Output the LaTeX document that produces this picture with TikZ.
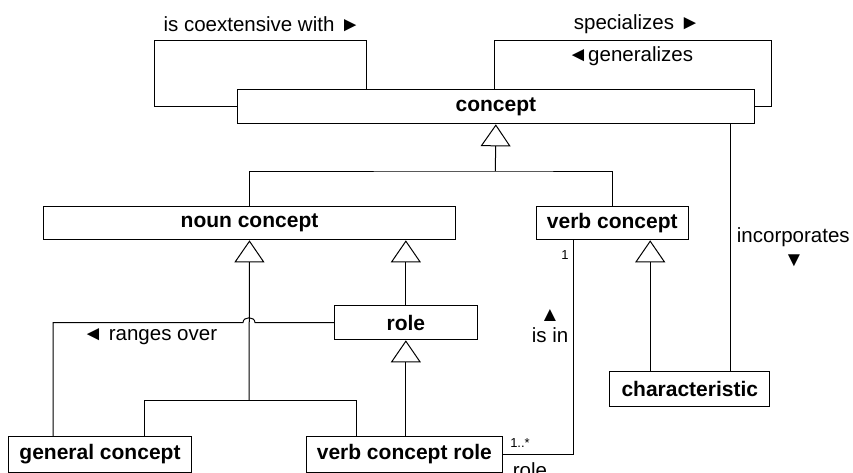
\documentclass[tikz,border=0pt]{standalone}
\usepackage{fontspec}
\setmainfont{Liberation Sans}
\usetikzlibrary{arrows.meta,calc}
\begin{document}
\begin{tikzpicture}[x=1pt,y=-1pt,
  line width=1pt,
  box/.style={draw,fill=white,inner sep=0pt,anchor=north west,font=\fontsize{21}{24}\selectfont\bfseries},
  lbl/.style={inner sep=0pt,font=\fontsize{20.5}{24}\selectfont},
  small/.style={inner sep=0pt,font=\fontsize{13}{15}\selectfont},
  gen/.style={-{Triangle[open,width=30pt,length=22pt,line width=1pt]},line join=miter}]
\useasboundingbox (0,0) rectangle (853,472);
% boxes
\node[box,minimum width=517.3pt,minimum height=34.3pt] (concept) at (236.7,89) {concept};
\node[box,minimum width=412pt,minimum height=33.3pt] (noun) at (43,206) {noun concept};
\node[box,minimum width=152.5pt,minimum height=33.3pt] (verb) at (535.5,206) {verb concept};
\node[box,minimum width=142.7pt,minimum height=34.3pt] (role) at (334,305) {role};
\node[box,minimum width=182.4pt,minimum height=35.7pt] (general) at (8.3,436) {general concept};
\node[box,minimum width=195.7pt,minimum height=35.7pt] (vcr) at (306,436) {verb concept role};
\node[box,minimum width=160pt,minimum height=35pt] (char) at (609.3,370.7) {characteristic};
% junctions
\coordinate (j1) at (495.35,171);
\coordinate (j2) at (249,400.7);
% concept generalization
\draw (noun.north) |- (j1) -| (verb.north);
\draw[gen] (j1) -- (concept.south);
% noun generalization
\draw ([xshift=44.5pt]general.north) |- (j2) -| ([xshift=-47.85pt]vcr.north);
\draw[gen] (j2) -- (noun.south);
% role -> noun
\draw[gen] (role.north) -- (role.north |- noun.south);
% vcr -> role
\draw[gen] (vcr.north -| role.south) -- (role.south);
% characteristic -> verb concept
\draw[gen] ([xshift=-39.6pt]char.north) -- ([xshift=-39.6pt]char.north |- verb.south);
% incorporates
\draw ([xshift=40.7pt]char.north) -- ([xshift=40.7pt]char.north |- concept.south);
% is in
\draw (vcr.east) -| ([xshift=-39pt]verb.south);
% ranges over with hop
\draw (role.west) -- ++(-79,0) .. controls +(0,-6.5) and +(0,-6.5) .. ++(-12,0) -| ([xshift=-46.8pt]general.north);
% self loops
\draw ([xshift=-129.65pt]concept.north) -- ++(0,-49) -| ([xshift=-82.7pt]concept.west) -- (concept.west);
\draw ([xshift=-1pt]concept.north) -- ++(0,-49) -| ([xshift=16.7pt]concept.east) -- (concept.east);
% labels
\node[lbl] (l1) at (262,24) {is coextensive with ►};
\node[lbl] (l2) at (637,24) {specializes ►};
\node[lbl] (l3) at (630.5,56) {◄generalizes};
\node[lbl] (l4) at (793.3,236.7) {incorporates};
\node[lbl] (l5) at (794,261) {▼};
\node[lbl] (l6) at (550,315) {▲};
\node[lbl] (l7) at (550,335) {is in};
\node[small] (l8) at (565,255) {1};
\node[small] (l9) at (520,443.3) {1..*};
\node[lbl,anchor=base] (l10) at (530,477) {role};
\node[lbl] (l11) at (150,336.7) {◄ ranges over};
\end{tikzpicture}
\end{document}
